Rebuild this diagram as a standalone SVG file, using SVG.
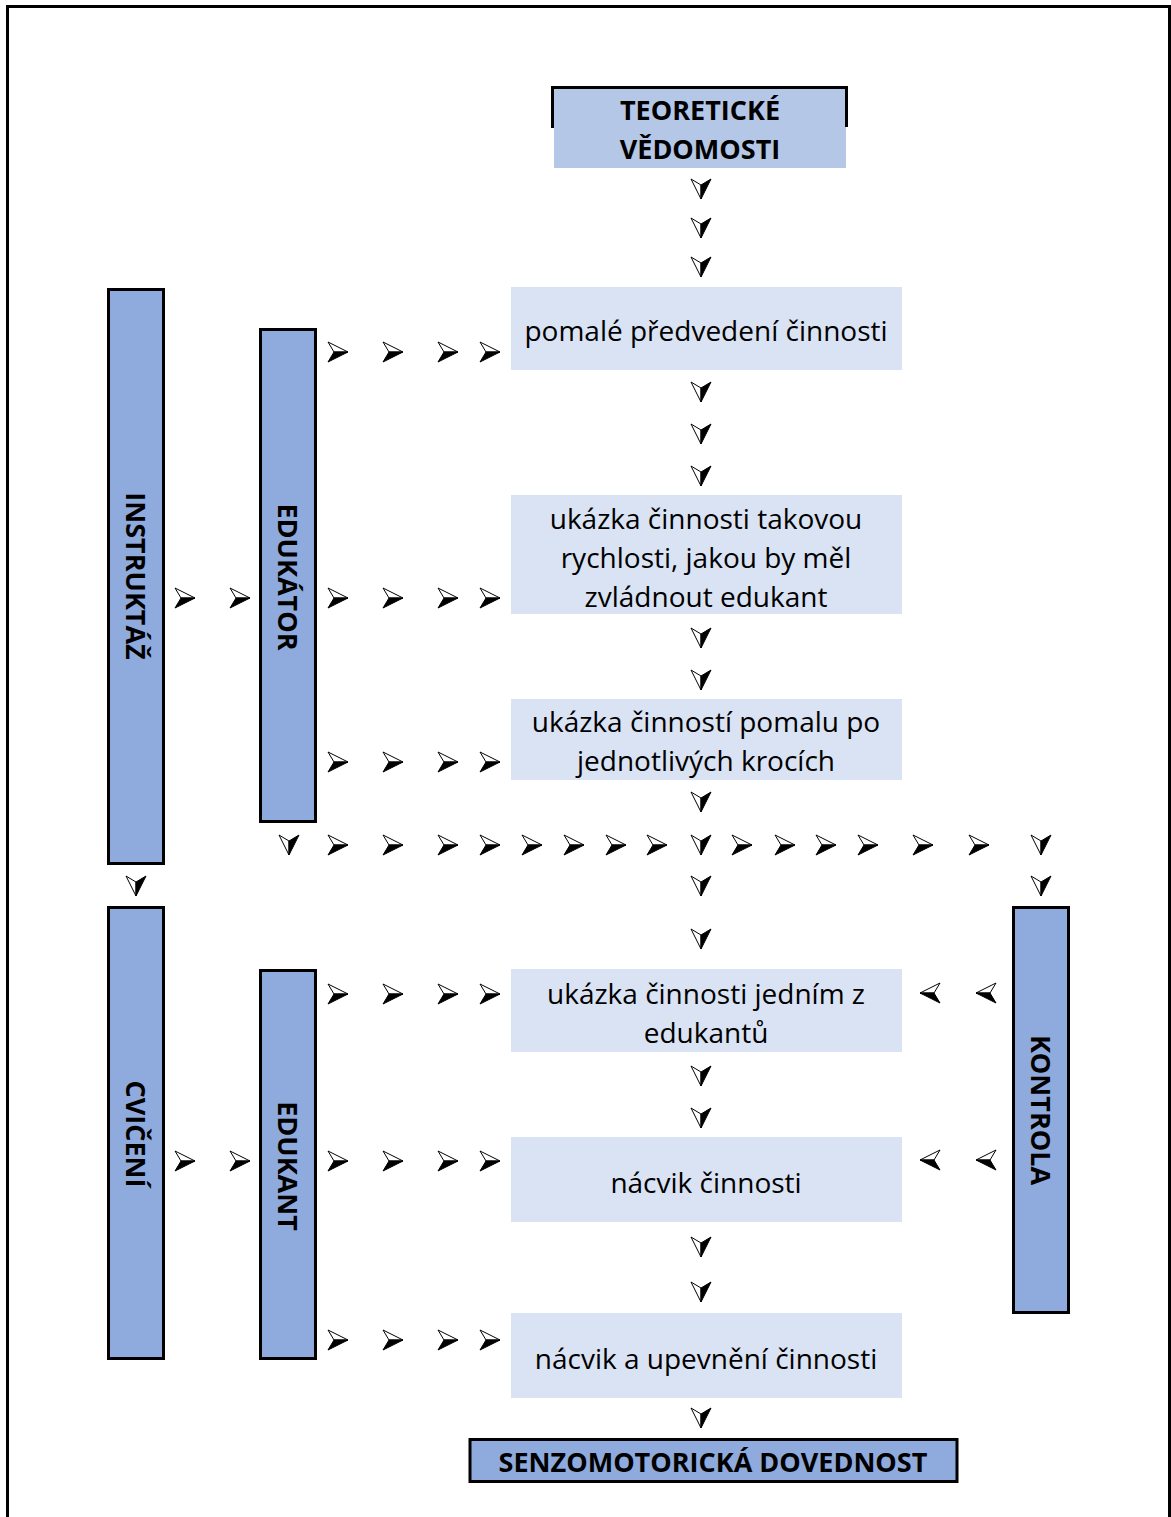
<svg xmlns="http://www.w3.org/2000/svg" xmlns:xlink="http://www.w3.org/1999/xlink" width="1171" height="1517" viewBox="0 0 1171 1517">
<style>
.bar{fill:#8FAADC;stroke:#000;stroke-width:3}
.light{fill:#DAE3F3}
.t{font-family:"Open Sans","Liberation Sans",sans-serif;font-size:28px;fill:#000;text-anchor:middle;dominant-baseline:central}
.b{font-family:"Open Sans","Liberation Sans",sans-serif;font-size:27px;font-weight:bold;fill:#000;text-anchor:middle;dominant-baseline:central}
.w{fill:#fff;stroke:#000;stroke-width:1}
.k{fill:#000;stroke:#000;stroke-width:1}
</style>
<defs>
<g id="ar"><path class="w" d="M-10,-10 L10,0 L-4,0 Z"/><path class="k" d="M-4,0 L10,0 L-10,10 Z"/></g>
<g id="al"><path class="w" d="M10,-10 L-10,0 L4,0 Z"/><path class="k" d="M4,0 L-10,0 L10,10 Z"/></g>
<g id="ad"><path class="w" d="M-10,-10 L0,10 L0,-4 Z"/><path class="k" d="M0,-4 L0,10 L10,-10 Z"/></g>
</defs>
<rect width="1171" height="1517" fill="#fff"/>
<path d="M7.5,1517 V6.5 H1169.5 V1517" fill="none" stroke="#000" stroke-width="3"/>

<g id="teoreticke">
<rect x="554" y="88" width="292" height="80" fill="#B4C7E7"/>
<path d="M552.5,128 V87.5 H846.5 V127" fill="none" stroke="#000" stroke-width="3"/>
<text class="b" x="700" y="109">TEORETICKÉ</text>
<text class="b" x="700" y="148">VĚDOMOSTI</text>
</g>

<g id="instruktaz"><rect class="bar" x="108.5" y="289.5" width="55" height="574"/><text class="b" transform="translate(136,576) rotate(90)">INSTRUKTÁŽ</text></g>
<g id="edukator"><rect class="bar" x="260.5" y="329.5" width="55" height="492"/><text class="b" transform="translate(288,577) rotate(90)">EDUKÁTOR</text></g>
<g id="cviceni"><rect class="bar" x="108.5" y="907.5" width="55" height="451"/><text class="b" transform="translate(136,1134) rotate(90)">CVIČENÍ</text></g>
<g id="edukant"><rect class="bar" x="260.5" y="970.5" width="55" height="388"/><text class="b" transform="translate(288,1166) rotate(90)">EDUKANT</text></g>
<g id="kontrola"><rect class="bar" x="1013.5" y="907.5" width="55" height="405"/><text class="b" transform="translate(1041,1110) rotate(90)">KONTROLA</text></g>

<g id="n1"><rect class="light" x="511" y="287" width="391" height="83"/><text class="t" x="706" y="330">pomalé předvedení činnosti</text></g>
<g id="n2"><rect class="light" x="511" y="495" width="391" height="119"/><text class="t" x="706" y="518">ukázka činnosti takovou</text><text class="t" x="706" y="557">rychlosti, jakou by měl</text><text class="t" x="706" y="596">zvládnout edukant</text></g>
<g id="n3"><rect class="light" x="511" y="699" width="391" height="81"/><text class="t" x="706" y="721">ukázka činností pomalu po</text><text class="t" x="706" y="760">jednotlivých krocích</text></g>
<g id="n4"><rect class="light" x="511" y="969" width="391" height="83"/><text class="t" x="706" y="993">ukázka činnosti jedním z</text><text class="t" x="706" y="1032">edukantů</text></g>
<g id="n5"><rect class="light" x="511" y="1137" width="391" height="85"/><text class="t" x="706" y="1182">nácvik činnosti</text></g>
<g id="n6"><rect class="light" x="511" y="1313" width="391" height="85"/><text class="t" x="706" y="1358">nácvik a upevnění činnosti</text></g>

<g id="senzo"><rect class="bar" x="470" y="1439.5" width="487" height="42"/><text class="b" x="713" y="1461">SENZOMOTORICKÁ DOVEDNOST</text></g>

<g id="connectors">
<use xlink:href="#ad" x="701" y="189"/><use xlink:href="#ad" x="701" y="228"/><use xlink:href="#ad" x="701" y="267"/>
<use xlink:href="#ad" x="701" y="392"/><use xlink:href="#ad" x="701" y="434"/><use xlink:href="#ad" x="701" y="476"/>
<use xlink:href="#ad" x="701" y="638"/><use xlink:href="#ad" x="701" y="680"/>
<use xlink:href="#ad" x="701" y="802"/><use xlink:href="#ad" x="701" y="845"/><use xlink:href="#ad" x="701" y="886"/><use xlink:href="#ad" x="701" y="939"/>
<use xlink:href="#ad" x="701" y="1076"/><use xlink:href="#ad" x="701" y="1118"/>
<use xlink:href="#ad" x="701" y="1247"/><use xlink:href="#ad" x="701" y="1292"/><use xlink:href="#ad" x="701" y="1418"/>
<use xlink:href="#ad" x="289" y="845"/><use xlink:href="#ad" x="1041" y="845"/><use xlink:href="#ad" x="1041" y="886"/><use xlink:href="#ad" x="136" y="886"/>
<use xlink:href="#ar" x="338" y="352"/><use xlink:href="#ar" x="393" y="352"/><use xlink:href="#ar" x="448" y="352"/><use xlink:href="#ar" x="490" y="352"/>
<use xlink:href="#ar" x="185" y="598"/><use xlink:href="#ar" x="240" y="598"/>
<use xlink:href="#ar" x="338" y="598"/><use xlink:href="#ar" x="393" y="598"/><use xlink:href="#ar" x="448" y="598"/><use xlink:href="#ar" x="490" y="598"/>
<use xlink:href="#ar" x="338" y="762"/><use xlink:href="#ar" x="393" y="762"/><use xlink:href="#ar" x="448" y="762"/><use xlink:href="#ar" x="490" y="762"/>
<use xlink:href="#ar" x="338" y="845"/><use xlink:href="#ar" x="393" y="845"/><use xlink:href="#ar" x="448" y="845"/><use xlink:href="#ar" x="490" y="845"/><use xlink:href="#ar" x="532" y="845"/><use xlink:href="#ar" x="574" y="845"/><use xlink:href="#ar" x="616" y="845"/><use xlink:href="#ar" x="657" y="845"/>
<use xlink:href="#ar" x="742" y="845"/><use xlink:href="#ar" x="785" y="845"/><use xlink:href="#ar" x="826" y="845"/><use xlink:href="#ar" x="868" y="845"/><use xlink:href="#ar" x="923" y="845"/><use xlink:href="#ar" x="979" y="845"/>
<use xlink:href="#ar" x="338" y="994"/><use xlink:href="#ar" x="393" y="994"/><use xlink:href="#ar" x="448" y="994"/><use xlink:href="#ar" x="490" y="994"/>
<use xlink:href="#ar" x="185" y="1161"/><use xlink:href="#ar" x="240" y="1161"/>
<use xlink:href="#ar" x="338" y="1161"/><use xlink:href="#ar" x="393" y="1161"/><use xlink:href="#ar" x="448" y="1161"/><use xlink:href="#ar" x="490" y="1161"/>
<use xlink:href="#ar" x="338" y="1340"/><use xlink:href="#ar" x="393" y="1340"/><use xlink:href="#ar" x="448" y="1340"/><use xlink:href="#ar" x="490" y="1340"/>
<use xlink:href="#al" x="930" y="993"/><use xlink:href="#al" x="986" y="993"/>
<use xlink:href="#al" x="930" y="1160"/><use xlink:href="#al" x="986" y="1160"/>
</g>
</svg>
